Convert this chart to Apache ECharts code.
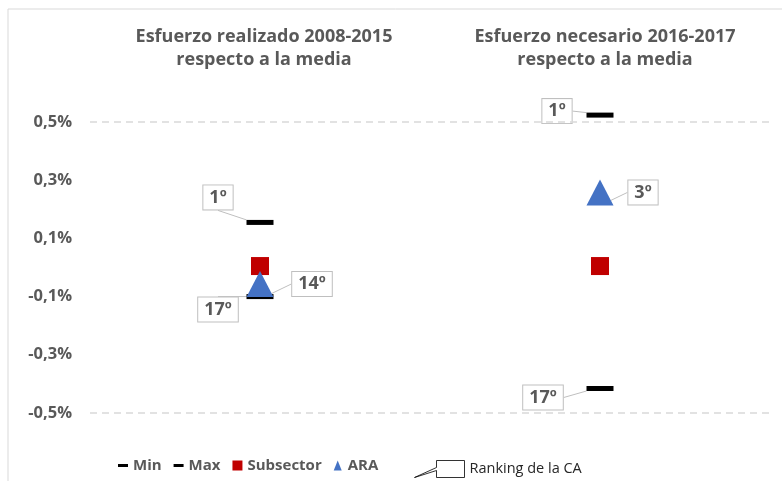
<!DOCTYPE html>
<html>
<head>
<meta charset="utf-8">
<script src="https://cdn.jsdelivr.net/npm/echarts@6/dist/echarts.min.js"></script>
<style>
  html, body { margin: 0; padding: 0; background: #fff; }
  #main { width: 782px; height: 481px; }
</style>
</head>
<body>
<div id="main"></div>
<script>
// datos (en %)
var categories = ["2008-2015", "2016-2017"];
var titles = [
  "Esfuerzo realizado 2008-2015\nrespecto a la media",
  "Esfuerzo necesario 2016-2017\nrespecto a la media"
];
var minValues = [-0.10, -0.416];
var maxValues = [0.155, 0.524];
var subsectorValues = [0.005, 0.005];
var araValues = [-0.057, 0.258];
var minRanks = ["17º", "17º"];
var maxRanks = ["1º", "1º"];
var araRanks = ["14º", "3º"];
var yLabels = [-0.5, -0.3, -0.1, 0.1, 0.3, 0.5];
var dashedLevels = [0.5, -0.5];

// desplazamiento de las etiquetas (px)
var offsets = {
  Min: [[-42, 13], [-57, 9]],
  Max: [[-42, -25], [-43, -4]],
  ARA: [[52, 0], [43, 0]]
};

let grey = "#595959";
let font = "'Open Sans', sans-serif";

let calloutLabel = (ranks) => ({
  show: true,
  position: "inside",
  formatter: (p) => ranks[p.dataIndex],
  fontFamily: font,
  fontSize: 18,
  fontWeight: "bold",
  color: grey,
  backgroundColor: "#fff",
  borderColor: "#bfbfbf",
  borderWidth: 1,
  padding: [4, 6, 2, 6]
});

let calloutLine = {
  show: true,
  lineStyle: { color: "#bfbfbf", width: 1 }
};

let layoutFor = (name) => (params) => {
  let o = offsets[name][params.dataIndex];
  return { dx: o[0], dy: o[1] };
};

let option = {
  animation: false,
  graphic: [
    {
      type: "rect",
      shape: { x: 8, y: 9, width: 800, height: 500 },
      style: { fill: "none", stroke: "#d9d9d9", lineWidth: 1 },
      silent: true
    }
  ],
  title: titles.map((t, i) => ({
    text: t,
    left: i === 0 ? 259 : 600,
    top: 20,
    textAlign: "center",
    textStyle: {
      fontFamily: font,
      fontSize: 18,
      fontWeight: "bold",
      color: grey,
      lineHeight: 23
    }
  })),
  legend: [
    {
      left: 113,
      top: 453,
      itemWidth: 10,
      itemHeight: 10,
      itemGap: 12,
      selectedMode: false,
      textStyle: { fontFamily: font, fontSize: 15, fontWeight: "bold", color: grey },
      data: [
        { name: "Min", icon: "path://M0,0h10v3h-10z" },
        { name: "Max", icon: "path://M0,0h10v3h-10z" },
        { name: "Subsector", icon: "rect" },
        { name: "ARA", icon: "path://M4,0L8,10L0,10Z" }
      ]
    },
    {
      left: 409,
      top: 455,
      itemWidth: 50,
      itemHeight: 17,
      selectedMode: false,
      textStyle: { fontFamily: font, fontSize: 14.5, color: "#262626" },
      data: [
        {
          name: "Ranking de la CA",
          icon: "path://M22,0H50V17H22V10L0,17L22,7Z",
          itemStyle: { color: "#fff", borderColor: "#000", borderWidth: 1 }
        }
      ]
    }
  ],
  grid: { left: 90, right: 12, top: 93, bottom: 39 },
  xAxis: {
    type: "category",
    data: categories,
    axisLine: { show: false },
    axisTick: { show: false },
    axisLabel: { show: false },
    splitLine: { show: false }
  },
  yAxis: {
    type: "value",
    min: -0.6,
    max: 0.6,
    interval: 0.1,
    axisLine: { show: false },
    axisTick: { show: false },
    splitLine: { show: false },
    axisLabel: {
      margin: 18,
      fontFamily: font,
      fontSize: 16.5,
      fontWeight: "bold",
      color: grey,
      formatter: (v) => {
        let t = Math.round(v * 10) / 10;
        if (yLabels.indexOf(t) < 0) return "";
        return t.toFixed(1).replace(".", ",") + "%";
      }
    }
  },
  series: [
    {
      name: "Min",
      type: "scatter",
      symbol: "rect",
      symbolSize: [27, 5],
      itemStyle: { color: "#000", opacity: 1 },
      data: minValues,
      label: calloutLabel(minRanks),
      labelLine: calloutLine,
      labelLayout: layoutFor("Min"),
      z: 2
    },
    {
      name: "Max",
      type: "scatter",
      symbol: "rect",
      symbolSize: [27, 5],
      itemStyle: { color: "#000", opacity: 1 },
      data: maxValues,
      label: calloutLabel(maxRanks),
      labelLine: calloutLine,
      labelLayout: layoutFor("Max"),
      z: 2
    },
    {
      name: "Subsector",
      type: "scatter",
      symbol: "rect",
      symbolSize: [18, 18],
      itemStyle: { color: "#C00000", opacity: 1 },
      data: subsectorValues,
      z: 3,
      markLine: {
        silent: true,
        symbol: "none",
        label: { show: false },
        lineStyle: { color: "#d9d9d9", type: [7, 5], width: 1.5 },
        data: dashedLevels.map((v) => ({ yAxis: v }))
      }
    },
    {
      name: "ARA",
      type: "scatter",
      symbol: "triangle",
      symbolSize: [27, 26],
      itemStyle: { color: "#4472C4", opacity: 1 },
      data: araValues,
      label: calloutLabel(araRanks),
      labelLine: calloutLine,
      labelLayout: layoutFor("ARA"),
      z: 4
    },
    {
      name: "Ranking de la CA",
      type: "scatter",
      itemStyle: { color: "#fff", borderColor: "#000", borderWidth: 1 },
      data: []
    }
  ]
};

var myChart = echarts.init(document.getElementById("main"));
myChart.setOption(option);
</script>
</body>
</html>
